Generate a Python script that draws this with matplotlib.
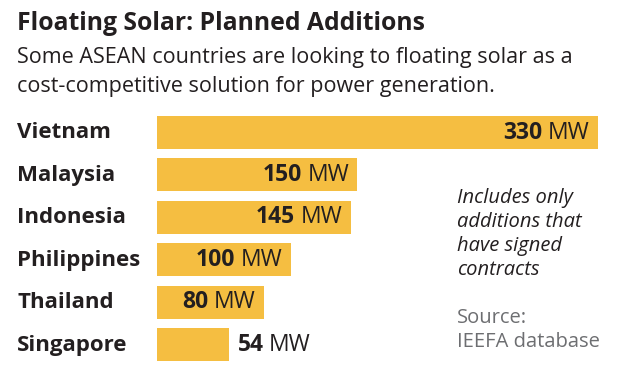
import matplotlib.pyplot as plt

countries = ['Vietnam', 'Malaysia', 'Indonesia', 'Philippines', 'Thailand', 'Singapore']
values = [330, 150, 145, 100, 80, 54]
unit = 'MW'
title = 'Floating Solar: Planned Additions'
subtitle = 'Some ASEAN countries are looking to floating solar as a\ncost-competitive solution for power generation.'
note = 'Includes only\nadditions that\nhave signed\ncontracts'
source = 'Source:\nIEEFA database'

bar_color = '#F5BE41'
dark = '#231F20'
grey = '#6D6E71'
plt.rcParams['font.family'] = ['Open Sans', 'DejaVu Sans']

W, H = 620, 379
fig = plt.figure(figsize=(6.2, 3.79), dpi=100)
fig.patch.set_facecolor('white')

# axes placed in pixel terms of the reference
left, right = 157, 598
top, bottom = 111.3, 365.9
ax = fig.add_axes([left / W, 1 - bottom / H, (right - left) / W, (bottom - top) / H])
ax.barh(range(len(values)), values, height=0.78, color=bar_color)
ax.set_xlim(0, 330)
ax.set_ylim(len(values) - 0.5, -0.5)
ax.axis('off')

fig.text(17 / W, 1 - 23 / H, title, fontsize=17.8, fontweight='bold', color=dark, va='center')
fig.text(17 / W, 1 - 72 / H, subtitle, fontsize=15.5, color=dark, va='center', linespacing=1.45)

for i, c in enumerate(countries):
    ax.text(17 / W, 1 - (133 + i * 42.4) / H, c, transform=fig.transFigure,
            fontsize=16, fontweight='bold', color=dark, va='center')

fig.canvas.draw()
r = fig.canvas.get_renderer()
fs = 16.5
for i, v in enumerate(values):
    if v > 60:
        t = ax.annotate(unit, (v, i), xytext=(-6, 0), textcoords='offset points',
                        ha='right', va='center', fontsize=fs, color=dark)
        w = t.get_window_extent(r).width * 72 / fig.dpi
        ax.annotate(str(v), (v, i), xytext=(-6 - w - 4, 0), textcoords='offset points',
                    ha='right', va='center', fontsize=fs, fontweight='bold', color=dark)
    else:
        t = ax.annotate(str(v), (v, i), xytext=(6, 0), textcoords='offset points',
                        ha='left', va='center', fontsize=fs, fontweight='bold', color=dark)
        w = t.get_window_extent(r).width * 72 / fig.dpi
        ax.annotate(unit, (v, i), xytext=(6 + w + 4, 0), textcoords='offset points',
                    ha='left', va='center', fontsize=fs, color=dark)

fig.text(457 / W, 1 - 234 / H, note, fontsize=14.5, style='italic', color=dark,
         va='center', linespacing=1.26)
fig.text(457 / W, 1 - 330 / H, source, fontsize=14.5, color=grey, va='center', linespacing=1.25)

fig.savefig('out.png', dpi=100)
